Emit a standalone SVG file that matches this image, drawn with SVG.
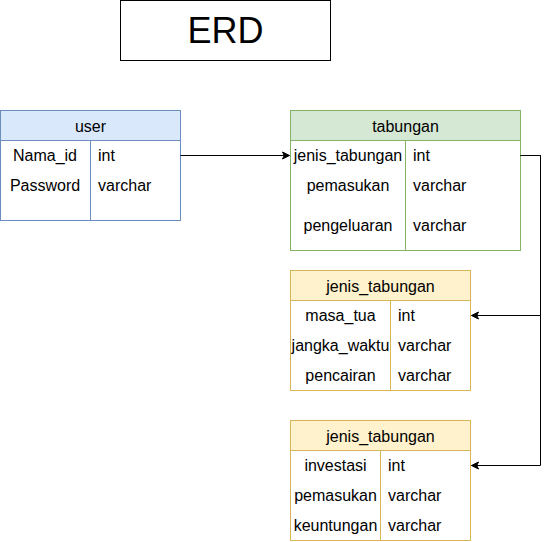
<svg xmlns="http://www.w3.org/2000/svg" width="550" height="542" viewBox="0 0 550 542">
<defs>
<marker id="arr" markerWidth="10" markerHeight="10" refX="8" refY="5" orient="auto" markerUnits="userSpaceOnUse">
<path d="M1,1.5 L8,5 L1,8.5 L2.75,5 Z" fill="#000" stroke="#000" stroke-width="1"/>
</marker>
</defs>
<style>
text{font-family:"Liberation Sans",Arial,sans-serif;font-size:16px;fill:#000}
.c{text-anchor:middle}
.line{fill:none;stroke:#000;stroke-width:1}
</style>
<rect width="550" height="542" fill="#fff"/>
<g id="title">
<rect x="120.5" y="0.5" width="210" height="60" fill="#fff" stroke="#000"/>
<text x="225.5" y="43" class="c" style="font-size:36px">ERD</text>
</g>
<g id="user">
<rect x="0.5" y="110.5" width="180" height="110" fill="#fff" stroke="#6c8ebf"/>
<rect x="0.5" y="110.5" width="180" height="30" fill="#dae8fc" stroke="#6c8ebf"/>
<line x1="90.5" y1="140.5" x2="90.5" y2="220.5" stroke="#6c8ebf"/>
<text x="90.5" y="131.5" class="c">user</text>
<text x="45" y="161" class="c">Nama_id</text><text x="98" y="161">int</text>
<text x="45" y="191" class="c">Password</text><text x="98" y="191">varchar</text>
</g>
<g id="tabungan">
<rect x="290.5" y="110.5" width="230" height="140" fill="#fff" stroke="#82b366"/>
<rect x="290.5" y="110.5" width="230" height="30" fill="#d5e8d4" stroke="#82b366"/>
<line x1="405.5" y1="140.5" x2="405.5" y2="250.5" stroke="#82b366"/>
<text x="405.5" y="131.5" class="c">tabungan</text>
<text x="348" y="161" class="c">jenis_tabungan</text><text x="413" y="161">int</text>
<text x="348" y="191" class="c">pemasukan</text><text x="413" y="191">varchar</text>
<text x="348" y="231" class="c">pengeluaran</text><text x="413" y="231">varchar</text>
</g>
<g id="jenis1">
<rect x="290.5" y="270.5" width="180" height="120" fill="#fff" stroke="#d6b656"/>
<rect x="290.5" y="270.5" width="180" height="30" fill="#fff2cc" stroke="#d6b656"/>
<line x1="390.5" y1="300.5" x2="390.5" y2="390.5" stroke="#d6b656"/>
<text x="380.5" y="291.5" class="c">jenis_tabungan</text>
<text x="340.5" y="321" class="c">masa_tua</text><text x="398" y="321">int</text>
<text x="340.5" y="351" class="c">jangka_waktu</text><text x="398" y="351">varchar</text>
<text x="340.5" y="381" class="c">pencairan</text><text x="398" y="381">varchar</text>
</g>
<g id="jenis2">
<rect x="290.5" y="420.5" width="180" height="120" fill="#fff" stroke="#d6b656"/>
<rect x="290.5" y="420.5" width="180" height="30" fill="#fff2cc" stroke="#d6b656"/>
<line x1="380.5" y1="450.5" x2="380.5" y2="540.5" stroke="#d6b656"/>
<text x="380.5" y="441.5" class="c">jenis_tabungan</text>
<text x="335.5" y="471" class="c">investasi</text><text x="388" y="471">int</text>
<text x="335.5" y="501" class="c">pemasukan</text><text x="388" y="501">varchar</text>
<text x="335.5" y="531" class="c">keuntungan</text><text x="388" y="531">varchar</text>
</g>
<g id="connectors">
<path class="line" d="M180.5,155.5 L289.5,155.5" marker-end="url(#arr)"/>
<path class="line" d="M520.5,155.5 L540.5,155.5 L540.5,315.5 L471.5,315.5" marker-end="url(#arr)"/>
<path class="line" d="M520.5,155.5 L540.5,155.5 L540.5,465.5 L471.5,465.5" marker-end="url(#arr)"/>
</g>
</svg>
